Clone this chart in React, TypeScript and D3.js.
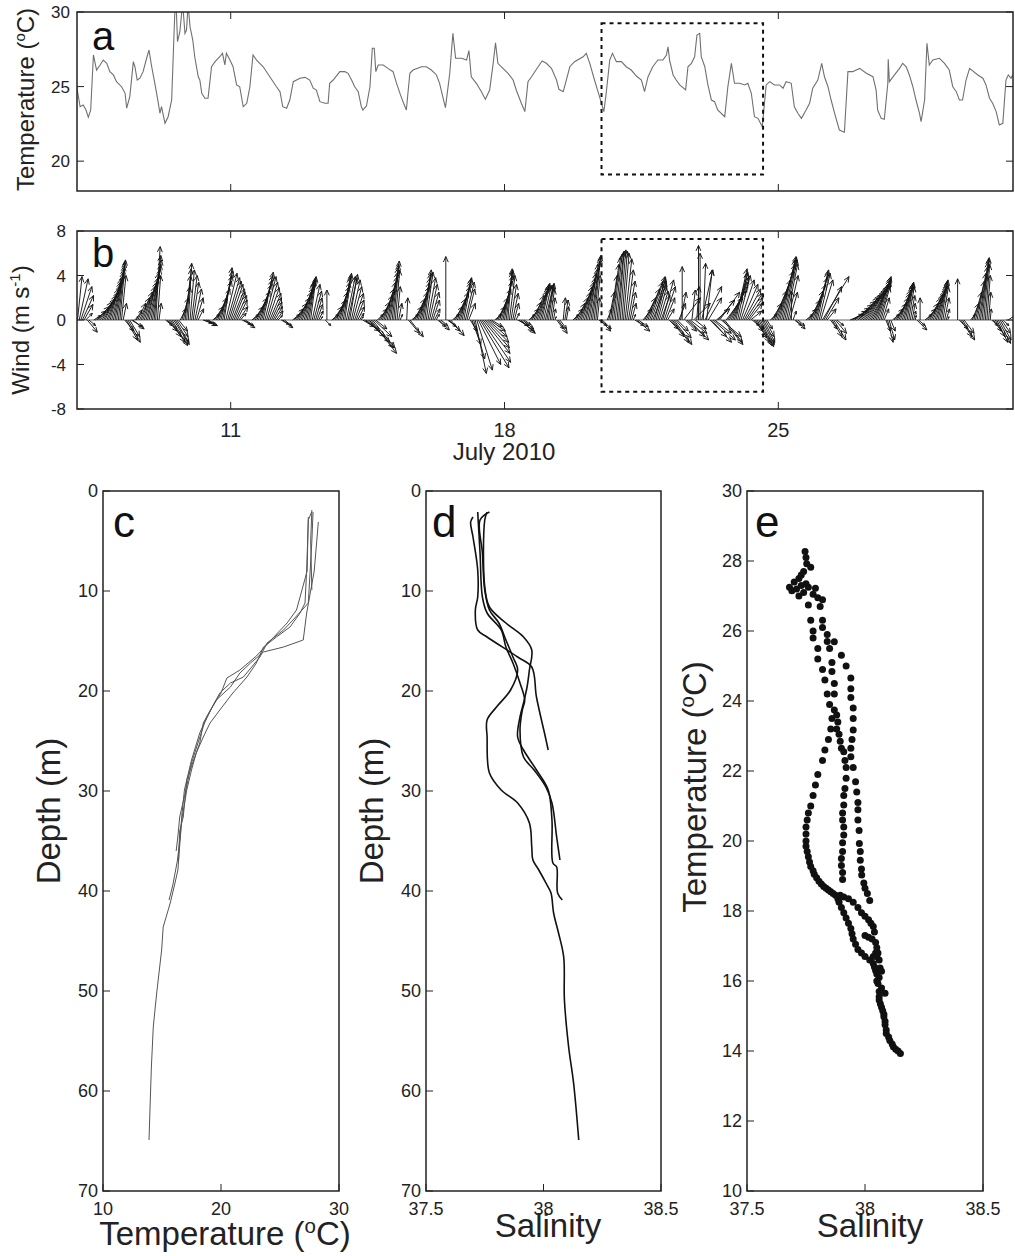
import React from 'react';
import * as d3 from 'd3';

const FONT = '"Liberation Sans", Arial, Helvetica, sans-serif';
const INK = '#222';

// panel a: near-surface temperature (day of July 2010, deg C)
const tempDay = [7.06,7.15,7.23,7.30,7.36,7.42,7.49,7.57,7.66,7.74,7.83,7.91,8.00,8.08,8.21,8.30,8.34,8.42,8.51,8.55,8.61,8.68,8.76,8.85,8.91,8.98,9.06,9.15,9.19,9.23,9.32,9.40,9.49,9.57,9.60,9.64,9.70,9.77,9.83,9.87,9.91,9.96,10.03,10.08,10.17,10.21,10.26,10.34,10.42,10.51,10.60,10.72,10.79,10.85,10.89,10.98,11.06,11.15,11.23,11.32,11.41,11.49,11.57,11.66,11.83,12.00,12.17,12.26,12.33,12.43,12.51,12.60,12.77,12.90,13.02,13.11,13.19,13.28,13.41,13.49,13.53,13.62,13.79,13.92,14.00,14.09,14.17,14.26,14.34,14.38,14.47,14.56,14.62,14.67,14.71,14.77,14.90,15.02,15.15,15.24,15.34,15.42,15.49,15.58,15.66,15.88,16.00,16.13,16.26,16.34,16.43,16.49,16.60,16.68,16.75,16.90,17.03,17.09,17.15,17.28,17.41,17.51,17.62,17.71,17.77,17.83,17.96,18.09,18.22,18.30,18.43,18.52,18.60,18.69,18.86,18.96,19.07,19.20,19.33,19.39,19.50,19.58,19.67,19.79,20.01,20.09,20.18,20.30,20.39,20.48,20.54,20.60,20.69,20.76,20.86,20.99,21.11,21.24,21.37,21.50,21.58,21.67,21.79,21.92,22.05,22.14,22.18,22.22,22.31,22.39,22.48,22.63,22.69,22.78,22.86,22.92,22.99,23.03,23.12,23.20,23.29,23.37,23.45,23.63,23.71,23.80,23.88,24.01,24.14,24.22,24.31,24.39,24.48,24.59,24.69,24.78,24.90,25.03,25.12,25.20,25.33,25.41,25.50,25.59,25.71,25.80,25.88,26.01,26.11,26.18,26.27,26.35,26.44,26.56,26.69,26.78,26.90,27.08,27.25,27.42,27.50,27.54,27.63,27.71,27.80,27.81,27.84,27.97,28.10,28.18,28.27,28.35,28.44,28.52,28.61,28.65,28.74,28.80,28.86,28.95,29.12,29.25,29.37,29.46,29.55,29.63,29.71,29.80,29.89,30.10,30.23,30.31,30.40,30.48,30.57,30.65,30.74,30.82,30.88,30.95,30.99];
const tempVal = [25.04,23.65,23.77,23.43,22.94,23.43,27.12,26.11,26.45,26.78,26.56,26.00,25.78,25.33,24.99,24.55,23.55,24.32,26.67,26.33,25.44,25.56,26.00,26.90,27.45,26.33,25.22,23.88,23.21,23.65,22.54,22.98,24.10,29.91,30.80,28.01,28.68,30.60,28.57,28.79,30.50,29.01,28.12,27.00,25.66,25.44,24.55,24.22,24.22,26.33,26.67,27.00,27.23,26.45,27.23,26.78,26.33,25.11,24.99,23.65,23.88,24.99,27.12,26.78,26.33,25.66,24.99,24.66,23.65,23.55,24.10,25.33,25.56,25.62,25.44,24.89,24.77,23.99,23.88,23.88,25.22,25.44,26.00,26.00,25.89,25.44,24.99,24.66,23.65,23.43,23.70,24.99,27.57,27.57,26.00,26.45,26.45,26.22,26.00,25.22,24.44,23.88,23.43,25.89,26.11,26.33,26.33,26.11,25.78,25.22,24.22,23.59,25.89,28.57,26.90,26.90,26.78,27.41,25.66,25.22,24.66,24.15,24.77,26.56,27.94,26.56,26.22,25.89,25.44,24.77,23.88,23.32,25.33,25.66,26.33,26.72,26.56,26.22,25.44,24.82,24.66,25.44,26.33,26.67,27.00,27.23,26.56,25.44,24.66,23.88,23.32,24.55,26.78,27.23,26.67,26.67,26.33,26.11,25.71,25.44,24.66,25.66,26.33,26.78,26.78,27.12,27.67,26.78,25.78,25.44,25.11,24.77,26.33,26.56,27.00,28.46,28.57,27.00,26.33,25.11,24.10,23.99,23.43,22.98,24.99,26.56,25.22,25.22,25.11,25.22,24.55,22.98,22.87,22.31,25.11,25.33,25.11,25.11,24.89,25.33,25.22,23.65,23.21,22.87,23.43,23.88,24.89,25.44,26.56,25.66,24.99,24.10,23.21,22.09,21.94,26.00,26.00,26.22,25.89,25.66,24.77,23.43,22.87,22.81,25.22,26.83,25.33,25.78,26.22,26.56,26.33,25.78,24.99,24.10,23.21,22.65,24.10,27.90,26.45,26.78,26.90,26.56,26.11,24.99,24.66,24.10,24.10,25.44,26.22,25.78,25.56,25.11,24.22,23.88,23.32,22.43,22.54,25.44,25.78,25.56,25.78];

// panel b: hourly wind components (m/s), one row of 24 hours per day from 7 July
const windFirstDay = 7;
const windV = [
  [0,0,3.9,3.7,3.0,2.2,1.4,0.6,-1.1,-0.5,0,0,0.4,0.8,1.2,1.6,1.9,2.2,2.5,2.8,3.1,3.4,3.7,4.0],
  [4.3,4.6,4.9,5.2,5.4,4.0,1.5,-1.0,-1.8,-2.0,-1.5,-0.6,-0.8,0.3,0.9,1.5,2.0,2.5,3.0,3.4,3.8,4.2,4.6,5.0],
  [5.4,5.8,6.6,4.0,1.5,0,0,0,-0.5,-1.0,-1.5,-2.0,-2.3,-2.2,-2.0,-1.5,-1.0,1.0,2.0,3.0,4.0,4.6,5.1,4.5],
  [4.0,3.4,2.8,2.0,1.0,0,0,-0.3,-0.5,-0.5,-0.3,0,0,0.5,1.2,2.0,2.8,3.5,4.0,4.4,4.7,4.2,3.8,3.5],
  [3.2,2.8,2.5,2.2,1.8,1.2,0.6,-0.4,-0.7,-0.5,0,0,0,0.5,1.2,2.0,2.6,3.2,3.6,4.0,4.3,3.9,3.4,2.9],
  [2.4,2.0,1.6,1.2,0.8,0.4,0,-0.4,-0.7,-0.5,0,0,0,0,0.5,1.0,1.5,2.0,2.5,2.9,3.2,3.4,3.5,3.6],
  [3.8,3.9,3.2,2.6,2.0,1.4,0.8,0.3,0,0,-0.5,2.7,0,0,0.5,1.2,1.8,2.5,3.0,3.4,3.8,4.0,4.2,3.9],
  [3.8,4.1,3.6,3.0,2.4,1.8,1.2,0.6,0.3,-0.6,-1.0,-1.5,-2.0,-2.5,-3.0,-2.5,-1.5,-0.8,0.5,1.0,1.6,2.2,2.8,3.4],
  [3.9,4.3,4.7,5.0,5.3,4.5,3.0,1.5,0.5,0,0,0,2.0,-1.2,-1.5,0.5,1.2,1.9,2.5,3.0,3.4,3.8,4.2,4.5],
  [4.3,3.8,3.2,2.5,1.8,1.0,0.5,-0.6,-0.9,-0.5,0,0,5.7,-0.6,-1.0,-1.4,0.5,1.2,1.9,2.5,3.0,3.4,3.7,3.8],
  [3.4,2.8,1.5,-1.0,-2.2,-3.5,-4.8,-4.5,-4.0,-4.3,-3.8,-3.0,-2.5,-2.0,-1.5,-1.0,-0.6,0,0.5,1.2,2.0,2.8,3.5,4.0],
  [4.3,4.5,4.6,4.0,3.2,2.4,1.5,0.6,-0.5,-1.0,-1.2,-0.8,-0.4,0,0,0.5,1.0,1.6,2.2,2.6,2.9,3.1,3.2,3.3],
  [3.1,3.0,3.2,3.3,2.8,2.0,1.0,0.3,-0.8,-1.2,-0.8,0,2.0,1.8,1.2,0,0,0,0.5,1.0,1.5,2.0,2.5,3.0],
  [3.4,3.8,4.2,4.6,5.0,5.3,5.6,5.8,4.0,2.0,-0.5,-1.0,-0.8,0,0,1.0,2.5,4.0,5.0,5.6,5.9,6.1,6.2,6.3],
  [6.2,6.0,5.5,4.5,3.5,2.5,1.5,0.5,-0.5,-1.0,-0.6,0,0,1.0,2.0,2.8,3.4,3.9,3.6,3.2,3.8,3.5,3.0,2.6],
  [2.2,3.6,3.0,2.0,1.0,-0.8,-1.5,-2.0,-2.2,-1.6,-1.0,1.5,2.5,4.8,2.0,-1.0,-1.5,-1.8,-1.2,2.7,1.5,-0.8,3.0,6.7],
  [6.0,4.5,5.1,3.0,4.5,2.0,-1.5,-2.0,-1.8,-1.2,1.0,1.8,2.5,-1.5,-2.2,-2.0,2.0,2.6,3.0,3.4,3.8,4.2,4.6,4.3],
  [4.0,3.6,3.2,2.8,2.4,2.0,1.5,0.8,-0.5,-1.0,-1.6,-2.0,-2.3,-2.4,-2.2,-2.0,-1.5,-0.8,0,0.5,1.5,2.6,3.6,4.4],
  [5.0,5.4,5.7,5.6,5.4,5.0,4.0,2.5,2.6,0.8,-0.5,-0.8,-0.5,0,0,0,0,0.5,1.0,1.8,2.6,3.2,3.8,4.3],
  [4.5,4.2,3.6,3.9,3.0,2.0,1.0,0,-0.8,-1.5,-1.8,-1.2,-0.5,0,0,0,0,0,0,0,0.5,0.8,1.1,1.4],
  [1.7,2.0,2.2,2.4,2.6,2.8,3.0,3.1,3.2,3.3,3.4,3.6,3.8,3.9,3.5,3.0,2.0,1.0,-1.0,-2.0,-1.8,-1.0,0.5,1.0],
  [1.5,2.0,2.4,2.7,3.0,3.2,3.3,3.4,3.0,2.2,1.5,0.8,0.4,-0.9,-0.5,2.0,0,0,0.5,1.0,1.5,2.0,2.3,2.6],
  [2.9,3.1,3.3,3.5,3.6,3.0,2.0,1.0,0.3,0,0,0,0,0,3.7,-0.8,-1.5,-1.8,-1.2,0,0,0,0.5,1.5],
  [2.5,3.5,4.2,4.8,5.2,5.5,5.6,5.0,4.0,2.5,1.0,-0.5,-1.0,-1.5,-2.0,-2.1,-1.8,-1.2,-0.5,0,0,0.6,0,0],
];
const windU = [
  [0,0,0.4,0.8,1.0,1.0,0.8,0.6,0.9,0.6,0,0,0.6,0.9,1.1,1.2,1.3,1.3,1.3,1.2,1.2,1.1,1.0,1.0],
  [0.9,0.8,0.7,0.6,0.5,0.4,0.3,0.8,1.0,1.1,0.9,1.0,1.0,0.3,0.5,0.7,0.9,1.0,1.1,1.1,1.1,1.0,1.0,0.9],
  [0.8,0.6,0.4,0.3,0.2,0,0,0,0.6,0.9,1.1,1.3,1.4,1.4,1.2,1.0,0.8,0.5,0.6,0.6,0.5,0.4,0.3,0.4],
  [0.5,0.5,0.6,0.6,0.5,0,0,0.8,1.0,1.0,0.6,0,0,0.6,0.8,1.0,1.1,1.1,1.0,0.9,0.7,1.0,1.1,1.1],
  [1.1,1.1,1.0,1.0,0.9,0.8,0.5,0.8,1.0,0.7,0,0,0,0.6,0.9,1.1,1.2,1.2,1.1,1.0,0.9,1.0,1.0,1.0],
  [1.0,0.9,0.8,0.7,0.6,0.4,0,0.7,0.9,0.6,0,0,0,0,0.6,0.8,1.0,1.1,1.1,1.1,1.0,0.9,0.8,0.7],
  [0.6,0.5,0.7,0.7,0.6,0.5,0.4,0.2,0,0,0.5,0,0,0,0.6,0.8,1.0,1.0,1.0,0.9,0.8,0.7,0.6,0.8],
  [0.8,0.7,0.8,0.8,0.8,0.7,0.6,0.4,0.2,1.0,1.4,1.7,2.0,2.2,2.3,2.0,1.6,1.0,0.5,0.7,0.8,0.9,0.9,0.9],
  [0.9,0.8,0.7,0.6,0.5,0.4,0.3,0.3,0.2,0,0,0,0.1,1.0,1.2,0.6,0.8,0.9,1.0,1.0,0.9,0.8,0.7,0.6],
  [0.6,0.7,0.7,0.7,0.6,0.5,0.3,0.7,0.9,0.6,0,0,0,0.8,1.0,1.2,0.6,0.8,0.9,1.0,1.0,0.9,0.8,0.7],
  [0.8,0.7,0.6,0.6,0.8,1.0,1.0,1.4,2.0,2.6,2.6,2.4,2.2,2.0,1.7,1.4,1.0,0,0.6,0.8,0.9,1.0,1.0,0.9],
  [0.7,0.6,0.4,0.5,0.5,0.5,0.4,0.3,1.0,1.3,1.3,1.0,0.6,0,0,0.5,0.7,0.8,0.9,1.0,1.0,0.9,0.8,0.7],
  [0.7,0.7,0.6,0.5,0.4,0.3,0.2,0.1,0.6,0.8,0.6,0,0.2,0.3,0.2,0,0,0,0.5,0.7,0.8,0.9,1.0,1.0],
  [1.0,1.0,0.9,0.9,0.8,0.8,0.7,0.6,0.4,0.2,0.7,0.9,0.8,0,0,0.4,0.5,0.6,0.6,0.6,0.6,0.6,0.5,0.5],
  [0.5,0.5,0.6,0.6,0.6,0.5,0.4,0.2,0.8,1.2,0.9,0,0,0.8,1.0,1.2,1.3,1.4,1.3,1.2,1.0,0.9,0.8,0.8],
  [0.8,1.0,1.0,0.8,0.6,0.8,1.2,1.5,1.6,1.4,1.0,0.6,0.5,0,1.5,1.0,1.6,1.8,1.5,0.3,1.5,1.0,0.2,0],
  [0,1.0,0.2,1.5,0.5,1.2,1.5,1.8,2.0,1.5,1.2,1.5,1.8,1.8,1.8,1.6,1.5,1.6,1.6,1.5,1.4,1.2,1.0,0.9],
  [1.0,1.2,1.4,1.5,1.5,1.4,1.2,1.0,0.6,0.8,1.0,1.1,1.2,1.2,1.1,1.0,0.8,0.5,0,0.6,0.9,1.2,1.4,1.5],
  [1.5,1.4,1.3,1.2,1.1,1.0,0.9,0.7,0,0.3,0.6,0.8,0.6,0,0,0,0,0.6,0.8,1.0,1.1,1.2,1.2,1.1],
  [1.0,1.0,1.1,2.4,1.6,1.2,0.8,0,0.6,0.9,1.1,1.0,0.6,0,0,0,0,0,0,0,1.2,1.4,1.5,1.6],
  [1.7,1.8,1.8,1.9,1.9,1.9,1.9,1.8,1.8,1.7,1.6,1.4,1.3,1.2,1.0,0.8,0.6,0.4,0.4,0.5,0.5,0.4,0.6,0.8],
  [1.0,1.0,1.0,0.9,0.9,0.8,0.7,0.6,0.5,0.4,0.3,0.2,0.1,0.9,0.6,0,0,0,0.6,0.8,0.9,1.0,1.0,1.0],
  [1.0,0.9,0.8,0.7,0.6,0.5,0.4,0.3,0.1,0,0,0,0,0,0,0.8,1.0,1.1,0.9,0,0,0,0.4,0.6],
  [0.7,0.8,0.8,0.8,0.7,0.6,0.5,0.4,0.3,0.2,0.1,0.5,0.7,0.9,1.0,1.1,1.0,0.8,0.5,0,0,0.9,0,0],
];

const timeStart = 7.07;
const timeEnd = 31;
const dayTicks = [11, 18, 25];
const tempTicksA = [20, 25, 30];
const windTicks = [-8, -4, 0, 4, 8];
const boxDays = [20.48, 24.61];
const boxTemp = [19.1, 29.25];
const boxWind = [-6.44, 7.28];

// panel c: temperature profiles (deg C vs depth m)
const profTempC = [
  [27.68,27.4,27.26,27.12,26.7,25.85,24.7,23.6,23.0,22.2,21.0,19.9,19.07,18.5,17.9,17.5,17.1,16.67,16.45,16.35,16.1,15.7,15.1,14.97,14.55,14.26,14.1,13.98,13.9],
  [28.25,27.9,27.26,26.97,25.3,23.6,22.5,21.6,20.8,19.6,18.8,18.2,17.5,16.9,16.7,16.55,16.3,15.9,15.6],
  [27.8,27.7,27.4,26.1,25.3,23.9,23.3,21.9,20.8,19.9,19.3,18.6,18.1,17.5,17.1,16.5,16.35,16.2],
  [27.4,27.3,26.4,25.6,24.4,23.0,21.6,20.5,20.0,19.1,18.5,18.2,17.6,17.1,16.8,16.5,16.4],
  [27.7,27.6,27.7],
];
const profDepthC = [
  [2.1,2.9,7.9,11.2,12.2,13.6,14.6,15.6,17.2,18.6,20.2,21.9,23.2,24.6,26.2,27.9,29.9,32.9,36.2,37.9,39.2,41.2,43.6,45.9,50.2,53.6,57.6,61.9,64.9],
  [3.1,8,12.2,14.9,15.6,16.1,17.2,18.2,19.6,20.9,22.6,24.2,26.9,29.9,32.2,34.5,37,39.5,40.9],
  [2.1,5,11.2,12.9,13.9,15.2,16.6,18.6,19.2,20.2,21.5,23.2,25,27.2,29.5,32.6,34.5,36],
  [2.6,8,11.9,13.2,14.7,16.5,17.9,18.7,20.2,21.9,23.2,25.2,27.2,28.9,32.6,34,37],
  [1.9,5,9.9],
];

// panel d: salinity profiles
const profSalD = [
  [37.77,37.73,37.74,37.75,37.77,37.81,37.84,37.87,37.89,37.86,37.80,37.76,37.76,37.77,37.82,37.89,37.94,37.95,37.955,37.98,38.015,38.032,38.043,38.064,38.086,38.089,38.107,38.128,38.15],
  [37.70,37.69,37.70,37.72,37.72,37.71,37.72,37.76,37.89,37.95,37.97,38.008,38.02],
  [37.76,37.75,37.75,37.77,37.84,37.915,37.95,37.94,37.93,37.915,37.90,37.89,37.915,37.97,38.02,38.036,38.04,38.056,38.06,38.08],
  [37.72,37.73,37.74,37.76,37.82,37.84,37.87,37.90,37.92,37.91,37.90,37.915,37.96,38.01,38.036,38.056,38.07],
];
const profDepthD = [
  [2.1,2.9,6.2,9.9,11.9,13.2,14.9,16.6,17.9,19.9,21.6,22.9,24.6,28.2,29.9,31.2,33.2,35.6,36.9,37.9,39.4,40.2,42.2,44.2,46.6,50.9,55.6,59.2,64.9],
  [2.6,3.1,4.6,7.9,10.6,11.9,13.9,14.6,16.6,17.6,20.6,24.6,25.9],
  [2.1,2.9,9.6,11.6,13.2,14.6,15.9,17.9,19.6,21.2,22.6,24.6,25.9,27.9,29.9,32.9,37.2,37.6,40.2,40.9],
  [2.1,6.2,10.6,12.2,13.9,15.6,17.2,19.2,20.9,21.9,23.9,26.6,27.9,29.6,31.2,34.6,36.9],
];

// panel e: T-S samples
const salE = [
  37.746,37.75,37.753,37.77,37.74,37.73,37.72,37.70,37.68,37.69,37.71,37.73,37.75,37.76,37.79,37.78,37.80,37.82,37.81,37.76,37.74,37.72,
  37.77,37.78,37.78,37.80,37.80,37.82,37.83,37.84,37.85,37.86,37.855,37.845,37.83,37.82,37.80,37.79,37.78,37.77,37.76,37.755,37.75,37.75,37.75,37.75,37.755,37.76,37.765,37.77,37.78,37.785,37.795,37.805,37.815,37.825,37.835,37.845,37.855,37.865,37.875,37.885,37.89,
  37.82,37.82,37.84,37.84,37.85,37.86,37.86,37.87,37.87,37.87,37.88,37.885,37.88,37.89,37.895,37.90,37.91,37.915,37.92,37.92,37.915,37.91,37.91,37.905,37.905,37.91,37.91,37.905,37.905,37.90,37.90,37.905,37.905,
  37.87,37.90,37.92,37.94,37.94,37.94,37.95,37.95,37.95,37.945,37.94,37.94,37.95,37.96,37.965,37.97,37.97,37.97,37.975,37.976,37.98,37.98,37.985,37.986,37.995,38.00,38.01,38.02,
  37.895,37.91,37.93,37.95,37.97,37.985,38.00,38.015,38.025,38.035,
  37.90,37.91,37.92,37.93,37.94,37.945,37.95,37.96,37.97,37.985,38.00,38.02,38.035,
  38.04,38.0,38.015,38.03,38.045,38.05,38.045,38.05,38.06,
  38.04,38.045,38.05,38.06,38.05,38.055,38.07,38.085,38.06,38.06,38.06,38.065,38.07,38.075,38.08,38.08,38.085,38.085,38.09,38.09,38.10,38.105,38.115,38.12,38.13,38.14,38.15,
  38.035,38.055,38.064,38.07,
];
const tempE = [
  28.27,28.10,27.92,27.82,27.70,27.60,27.50,27.40,27.25,27.15,27.20,27.30,27.35,27.25,27.22,27.05,26.95,26.89,26.70,26.74,27.10,27.00,
  26.31,26.00,25.80,25.50,25.20,24.90,24.60,24.20,23.90,23.50,23.20,22.90,22.60,22.30,21.90,21.60,21.30,21.00,20.80,20.60,20.40,20.20,20.00,19.85,19.70,19.55,19.40,19.27,19.15,19.05,18.95,18.85,18.77,18.70,18.65,18.60,18.55,18.50,18.45,18.35,18.25,
  26.31,26.10,25.90,25.70,25.50,25.10,24.84,24.50,24.20,23.74,23.60,23.40,23.20,23.05,22.85,22.65,22.55,22.30,22.10,21.79,21.50,21.30,21.03,20.80,20.60,20.40,20.17,19.95,19.70,19.50,19.30,19.10,18.90,
  25.69,25.31,25.00,24.66,24.35,24.10,23.80,23.50,23.17,22.90,22.65,22.41,22.10,21.69,21.40,21.10,20.89,20.60,20.30,19.93,19.70,19.45,19.20,19.03,18.80,18.65,18.50,18.30,
  18.45,18.40,18.35,18.25,18.10,17.95,17.85,17.75,17.65,17.56,
  18.10,17.95,17.80,17.65,17.50,17.35,17.20,17.05,16.90,16.80,16.70,16.60,16.50,
  17.40,17.30,17.25,17.20,17.10,16.95,16.80,16.70,16.60,
  16.40,16.30,16.20,16.10,16.00,15.93,15.80,15.65,15.70,15.55,15.46,15.35,15.25,15.15,15.05,14.98,14.85,14.75,14.60,14.50,14.40,14.30,14.20,14.12,14.05,14.00,13.93,
  16.70,16.80,16.37,16.28,
];

const depthTicks = [0, 10, 20, 30, 40, 50, 60, 70];
const tempTicksC = [10, 20, 30];
const salTicks = [37.5, 38, 38.5];
const tempTicksE = [10, 12, 14, 16, 18, 20, 22, 24, 26, 28, 30];

function Degree({ size }: { size: number }) {
  return (
    <>
      <tspan dy={-size * 0.36} fontSize={size * 0.62}>o</tspan>
      <tspan dy={size * 0.36}>C)</tspan>
    </>
  );
}

export default function App() {
  // top panels
  const L = 77, R = 1013;
  const aTop = 12, aBot = 191, bTop = 231, bBot = 409;
  const xT = d3.scaleLinear().domain([timeStart, timeEnd]).range([L, R]);
  const yA = d3.scaleLinear().domain([18, 30]).range([aBot, aTop]);
  const yW = d3.scaleLinear().domain([-8, 8]).range([bBot, bTop]);

  // bottom panels
  const pTop = 491, pBot = 1191;
  const cL = 103, cR = 339, dL = 426, dR = 661, eL = 747, eR = 983;
  const yDepth = d3.scaleLinear().domain([0, 70]).range([pTop, pBot]);
  const xC = d3.scaleLinear().domain([10, 30]).range([cL, cR]);
  const xD = d3.scaleLinear().domain([37.5, 38.5]).range([dL, dR]);
  const xE = d3.scaleLinear().domain([37.5, 38.5]).range([eL, eR]);
  const yE = d3.scaleLinear().domain([10, 30]).range([pBot, pTop]);

  const lineA = d3.line<number>().x((d) => xT(d)).y((_, i) => yA(tempVal[i]));

  // wind sticks
  const k = yW(0) - yW(1);
  let arrows = '';
  windV.forEach((row, i) =>
    row.forEach((v, h) => {
      const u = windU[i][h];
      if (v === 0 && u === 0) return;
      const t = windFirstDay + i + h / 24;
      if (t < timeStart || t > timeEnd) return;
      const x0 = xT(t), y0 = yW(0);
      const x1 = x0 + u * k, y1 = yW(v);
      const len = Math.hypot(x1 - x0, y1 - y0);
      const hl = Math.min(6, len * 0.35);
      const ang = Math.atan2(y1 - y0, x1 - x0);
      const a1 = ang + Math.PI - 0.42, a2 = ang + Math.PI + 0.42;
      arrows += `M${x0.toFixed(1)},${y0.toFixed(1)}L${x1.toFixed(1)},${y1.toFixed(1)}`;
      arrows += `M${(x1 + hl * Math.cos(a1)).toFixed(1)},${(y1 + hl * Math.sin(a1)).toFixed(1)}L${x1.toFixed(1)},${y1.toFixed(1)}L${(x1 + hl * Math.cos(a2)).toFixed(1)},${(y1 + hl * Math.sin(a2)).toFixed(1)}`;
    })
  );

  const profLine = (xs: number[], xScale: d3.ScaleLinear<number, number>, curve: d3.CurveFactory) =>
    d3.line<number>().x((_, i) => xScale(xs[i])).y((d) => yDepth(d)).curve(curve);

  const tick = 7;

  const bottomAxes = (x0: number, x1: number, xScale: d3.ScaleLinear<number, number>, xTicks: number[], yScale: d3.ScaleLinear<number, number>, yTicks: number[]) => (
    <g>
      <rect x={x0} y={pTop} width={x1 - x0} height={pBot - pTop} fill="none" stroke={INK} strokeWidth={1.5} />
      {yTicks.map((t) => (
        <g key={'y' + t}>
          <line x1={x0} x2={x0 + tick} y1={yScale(t)} y2={yScale(t)} stroke={INK} strokeWidth={1} />
          <text x={x0 - 5} y={yScale(t)} dy="0.36em" textAnchor="end" fontSize={18} fill={INK}>{t}</text>
        </g>
      ))}
      {xTicks.map((t) => (
        <g key={'x' + t}>
          <line x1={xScale(t)} x2={xScale(t)} y1={pBot} y2={pBot - tick} stroke={INK} strokeWidth={1} />
          <text x={xScale(t)} y={1215} textAnchor="middle" fontSize={18} fill={INK}>{t}</text>
        </g>
      ))}
    </g>
  );

  return (
    <svg width={1015} height={1256} style={{ position: 'absolute', left: 0, top: 0, background: '#fff' }} fontFamily={FONT}>
      <defs>
        <clipPath id="clipA"><rect x={L} y={aTop} width={R - L} height={aBot - aTop} /></clipPath>
        <clipPath id="clipB"><rect x={L} y={bTop} width={R - L} height={bBot - bTop} /></clipPath>
      </defs>
      <rect width={1015} height={1256} fill="#fff" />

      {/* panel a */}
      <path d={lineA(tempDay) || ''} fill="none" stroke="#707070" strokeWidth={1.1} clipPath="url(#clipA)" />
      <rect x={L} y={aTop} width={R - L} height={aBot - aTop} fill="none" stroke={INK} strokeWidth={1.5} />
      {tempTicksA.map((t) => (
        <g key={'ta' + t}>
          <line x1={L} x2={L + tick} y1={yA(t)} y2={yA(t)} stroke={INK} />
          <line x1={R} x2={R - tick} y1={yA(t)} y2={yA(t)} stroke={INK} />
          <text x={70} y={yA(t)} dy="0.36em" textAnchor="end" fontSize={17} fill={INK}>{t}</text>
        </g>
      ))}
      {dayTicks.map((d) => (
        <g key={'da' + d}>
          <line x1={xT(d)} x2={xT(d)} y1={aBot} y2={aBot - tick} stroke={INK} />
          <line x1={xT(d)} x2={xT(d)} y1={aTop} y2={aTop + tick} stroke={INK} />
        </g>
      ))}
      <rect x={xT(boxDays[0])} y={yA(boxTemp[1])} width={xT(boxDays[1]) - xT(boxDays[0])} height={yA(boxTemp[0]) - yA(boxTemp[1])}
        fill="none" stroke="#111" strokeWidth={2} strokeDasharray="4 4" />
      <text x={92} y={50} fontSize={40} fill="#111">a</text>
      <text transform={`translate(34,${(aTop + aBot) / 2 - 2}) rotate(-90)`} textAnchor="middle" fontSize={24} fill={INK}>
        Temperature (<Degree size={24} />
      </text>

      {/* panel b */}
      <line x1={L} x2={R} y1={yW(0)} y2={yW(0)} stroke="#666" strokeWidth={1} />
      <path d={arrows} fill="none" stroke="#151515" strokeWidth={0.95} clipPath="url(#clipB)" />
      <rect x={L} y={bTop} width={R - L} height={bBot - bTop} fill="none" stroke={INK} strokeWidth={1.5} />
      {windTicks.map((t) => (
        <g key={'tw' + t}>
          <line x1={L} x2={L + tick} y1={yW(t)} y2={yW(t)} stroke={INK} />
          <line x1={R} x2={R - tick} y1={yW(t)} y2={yW(t)} stroke={INK} />
          <text x={66} y={yW(t)} dy="0.36em" textAnchor="end" fontSize={17} fill={INK}>{t}</text>
        </g>
      ))}
      {dayTicks.map((d) => (
        <g key={'db' + d}>
          <line x1={xT(d)} x2={xT(d)} y1={bBot} y2={bBot - tick} stroke={INK} />
          <line x1={xT(d)} x2={xT(d)} y1={bTop} y2={bTop + tick} stroke={INK} />
          <text x={xT(d)} y={437} textAnchor="middle" fontSize={20} fill={INK}>{d}</text>
        </g>
      ))}
      <text x={504} y={460} textAnchor="middle" fontSize={24} fill={INK}>July 2010</text>
      <rect x={xT(boxDays[0])} y={yW(boxWind[1])} width={xT(boxDays[1]) - xT(boxDays[0])} height={yW(boxWind[0]) - yW(boxWind[1])}
        fill="none" stroke="#111" strokeWidth={2} strokeDasharray="4 4" />
      <text x={92} y={267} fontSize={40} fill="#111">b</text>
      <text transform={`translate(29,330) rotate(-90)`} textAnchor="middle" fontSize={24} fill={INK}>
        Wind (m s<tspan dy={-9} fontSize={15}>-1</tspan><tspan dy={9}>)</tspan>
      </text>

      {/* panel c */}
      {profDepthC.map((dep, i) => (
        <path key={'c' + i} d={profLine(profTempC[i], xC, d3.curveLinear)(dep) || ''} fill="none" stroke="#555" strokeWidth={1} />
      ))}
      {bottomAxes(cL, cR, xC, tempTicksC, yDepth, depthTicks)}
      <text x={113} y={537} fontSize={44} fill="#111">c</text>
      <text transform={`translate(60,811) rotate(-90)`} textAnchor="middle" fontSize={33} fill={INK}>Depth (m)</text>
      <text x={225} y={1245} textAnchor="middle" fontSize={33} fill={INK}>Temperature (<Degree size={33} /></text>

      {/* panel d */}
      {profDepthD.map((dep, i) => (
        <path key={'d' + i} d={profLine(profSalD[i], xD, d3.curveCatmullRom)(dep) || ''} fill="none" stroke="#111" strokeWidth={1.6} />
      ))}
      {bottomAxes(dL, dR, xD, salTicks, yDepth, depthTicks)}
      <text x={432} y={537} fontSize={44} fill="#111">d</text>
      <text transform={`translate(383,811) rotate(-90)`} textAnchor="middle" fontSize={33} fill={INK}>Depth (m)</text>
      <text x={548} y={1237} textAnchor="middle" fontSize={33} fill={INK}>Salinity</text>

      {/* panel e */}
      {salE.map((s, i) => (
        <circle key={'e' + i} cx={xE(s)} cy={yE(tempE[i])} r={3.5} fill="#111" />
      ))}
      {bottomAxes(eL, eR, xE, salTicks, yE, tempTicksE)}
      <text x={755} y={537} fontSize={44} fill="#111">e</text>
      <text transform={`translate(706,787) rotate(-90)`} textAnchor="middle" fontSize={33} fill={INK}>Temperature (<Degree size={33} /></text>
      <text x={870} y={1237} textAnchor="middle" fontSize={33} fill={INK}>Salinity</text>
    </svg>
  );
}
